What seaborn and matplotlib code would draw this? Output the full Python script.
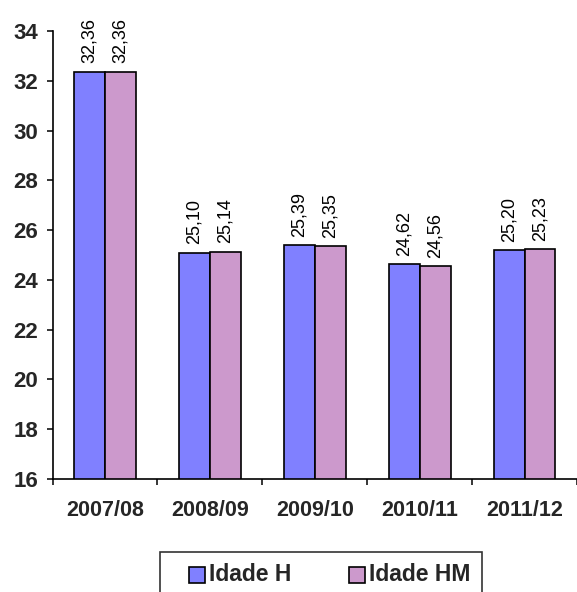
import matplotlib
matplotlib.use("Agg")
import matplotlib.pyplot as plt
import seaborn as sns
import pandas as pd
from matplotlib.patches import Rectangle
from matplotlib.legend_handler import HandlerPatch
from matplotlib.ticker import FixedLocator

anos = ["2007/08", "2008/09", "2009/10", "2010/11", "2011/12"]
series = ["Idade H", "Idade HM"]
idade_h = [32.36, 25.10, 25.39, 24.62, 25.20]
idade_hm = [32.36, 25.14, 25.35, 24.56, 25.23]
cores = ["#8080FF", "#CC99CC"]
yticks = [16, 18, 20, 22, 24, 26, 28, 30, 32, 34]

df = pd.DataFrame({
    "Ano": anos * 2,
    "Serie": [series[0]] * len(anos) + [series[1]] * len(anos),
    "Valor": idade_h + idade_hm,
})

sns.set_theme(style="white")
plt.rcParams["font.family"] = ["Liberation Sans", "DejaVu Sans"]

fig = plt.figure(figsize=(5.77, 5.92), dpi=100)
ax = fig.add_axes([52.5 / 577, 1 - 479 / 592, 1 - 52.5 / 577, (479 - 31) / 592])

sns.barplot(data=df, x="Ano", y="Valor", hue="Serie", palette=cores,
            width=0.59, gap=0, edgecolor="black", linewidth=1.2,
            saturation=1, ax=ax)

for cont in ax.containers:
    ax.bar_label(cont, labels=[f"{v:.2f}".replace(".", ",") for v in cont.datavalues],
                 rotation=90, padding=6, fontsize=13, color="black")

ax.set_ylim(16, 34)
ax.set_xlim(-0.5, len(anos) - 0.5)
ax.set_yticks(yticks)
ax.tick_params(axis="y", which="major", direction="out", length=4.5, width=1.1,
               color="black", pad=6, labelsize=16, left=True)
for t in ax.get_yticklabels():
    t.set_fontweight("bold")

ax.xaxis.set_major_locator(FixedLocator([i - 0.5 for i in range(len(anos) + 1)]))
ax.xaxis.set_major_formatter(plt.NullFormatter())
ax.xaxis.set_minor_locator(FixedLocator(list(range(len(anos)))))
ax.set_xticklabels(anos, minor=True)
ax.tick_params(axis="x", which="major", direction="out", length=4.5, width=1.1,
               color="black", bottom=True)
ax.tick_params(axis="x", which="minor", length=0, pad=15, labelsize=15.5, bottom=True)
for t in ax.get_xticklabels(minor=True):
    t.set_fontweight("bold")

ax.set_xlabel("")
ax.set_ylabel("")
for s in ["top", "right"]:
    ax.spines[s].set_visible(False)
for s in ["left", "bottom"]:
    ax.spines[s].set_color("black")
    ax.spines[s].set_linewidth(1.2)

handles, labels = ax.get_legend_handles_labels()
if ax.get_legend() is not None:
    ax.get_legend().remove()


def square_patch(legend, orig_handle, xdescent, ydescent, width, height, fontsize):
    side = 0.72 * fontsize
    return Rectangle((-xdescent + width - side, -ydescent + (height - side) / 2 - 1),
                     side, side)


leg = fig.legend(handles, labels, loc="upper center", ncol=2,
                 bbox_to_anchor=(321 / 577, 1 - 552 / 592), borderaxespad=0,
                 prop={"size": 16.5, "weight": "bold"},
                 handlelength=1.45, handleheight=0.75, handletextpad=0.15,
                 columnspacing=1.8, borderpad=0.5, frameon=True, fancybox=False,
                 handler_map={Rectangle: HandlerPatch(patch_func=square_patch)})
leg.get_frame().set_edgecolor("black")
leg.get_frame().set_linewidth(1.2)
for h in leg.legend_handles:
    h.set_edgecolor("black")
    h.set_linewidth(1.2)

fig.savefig("out.png", dpi=100)
